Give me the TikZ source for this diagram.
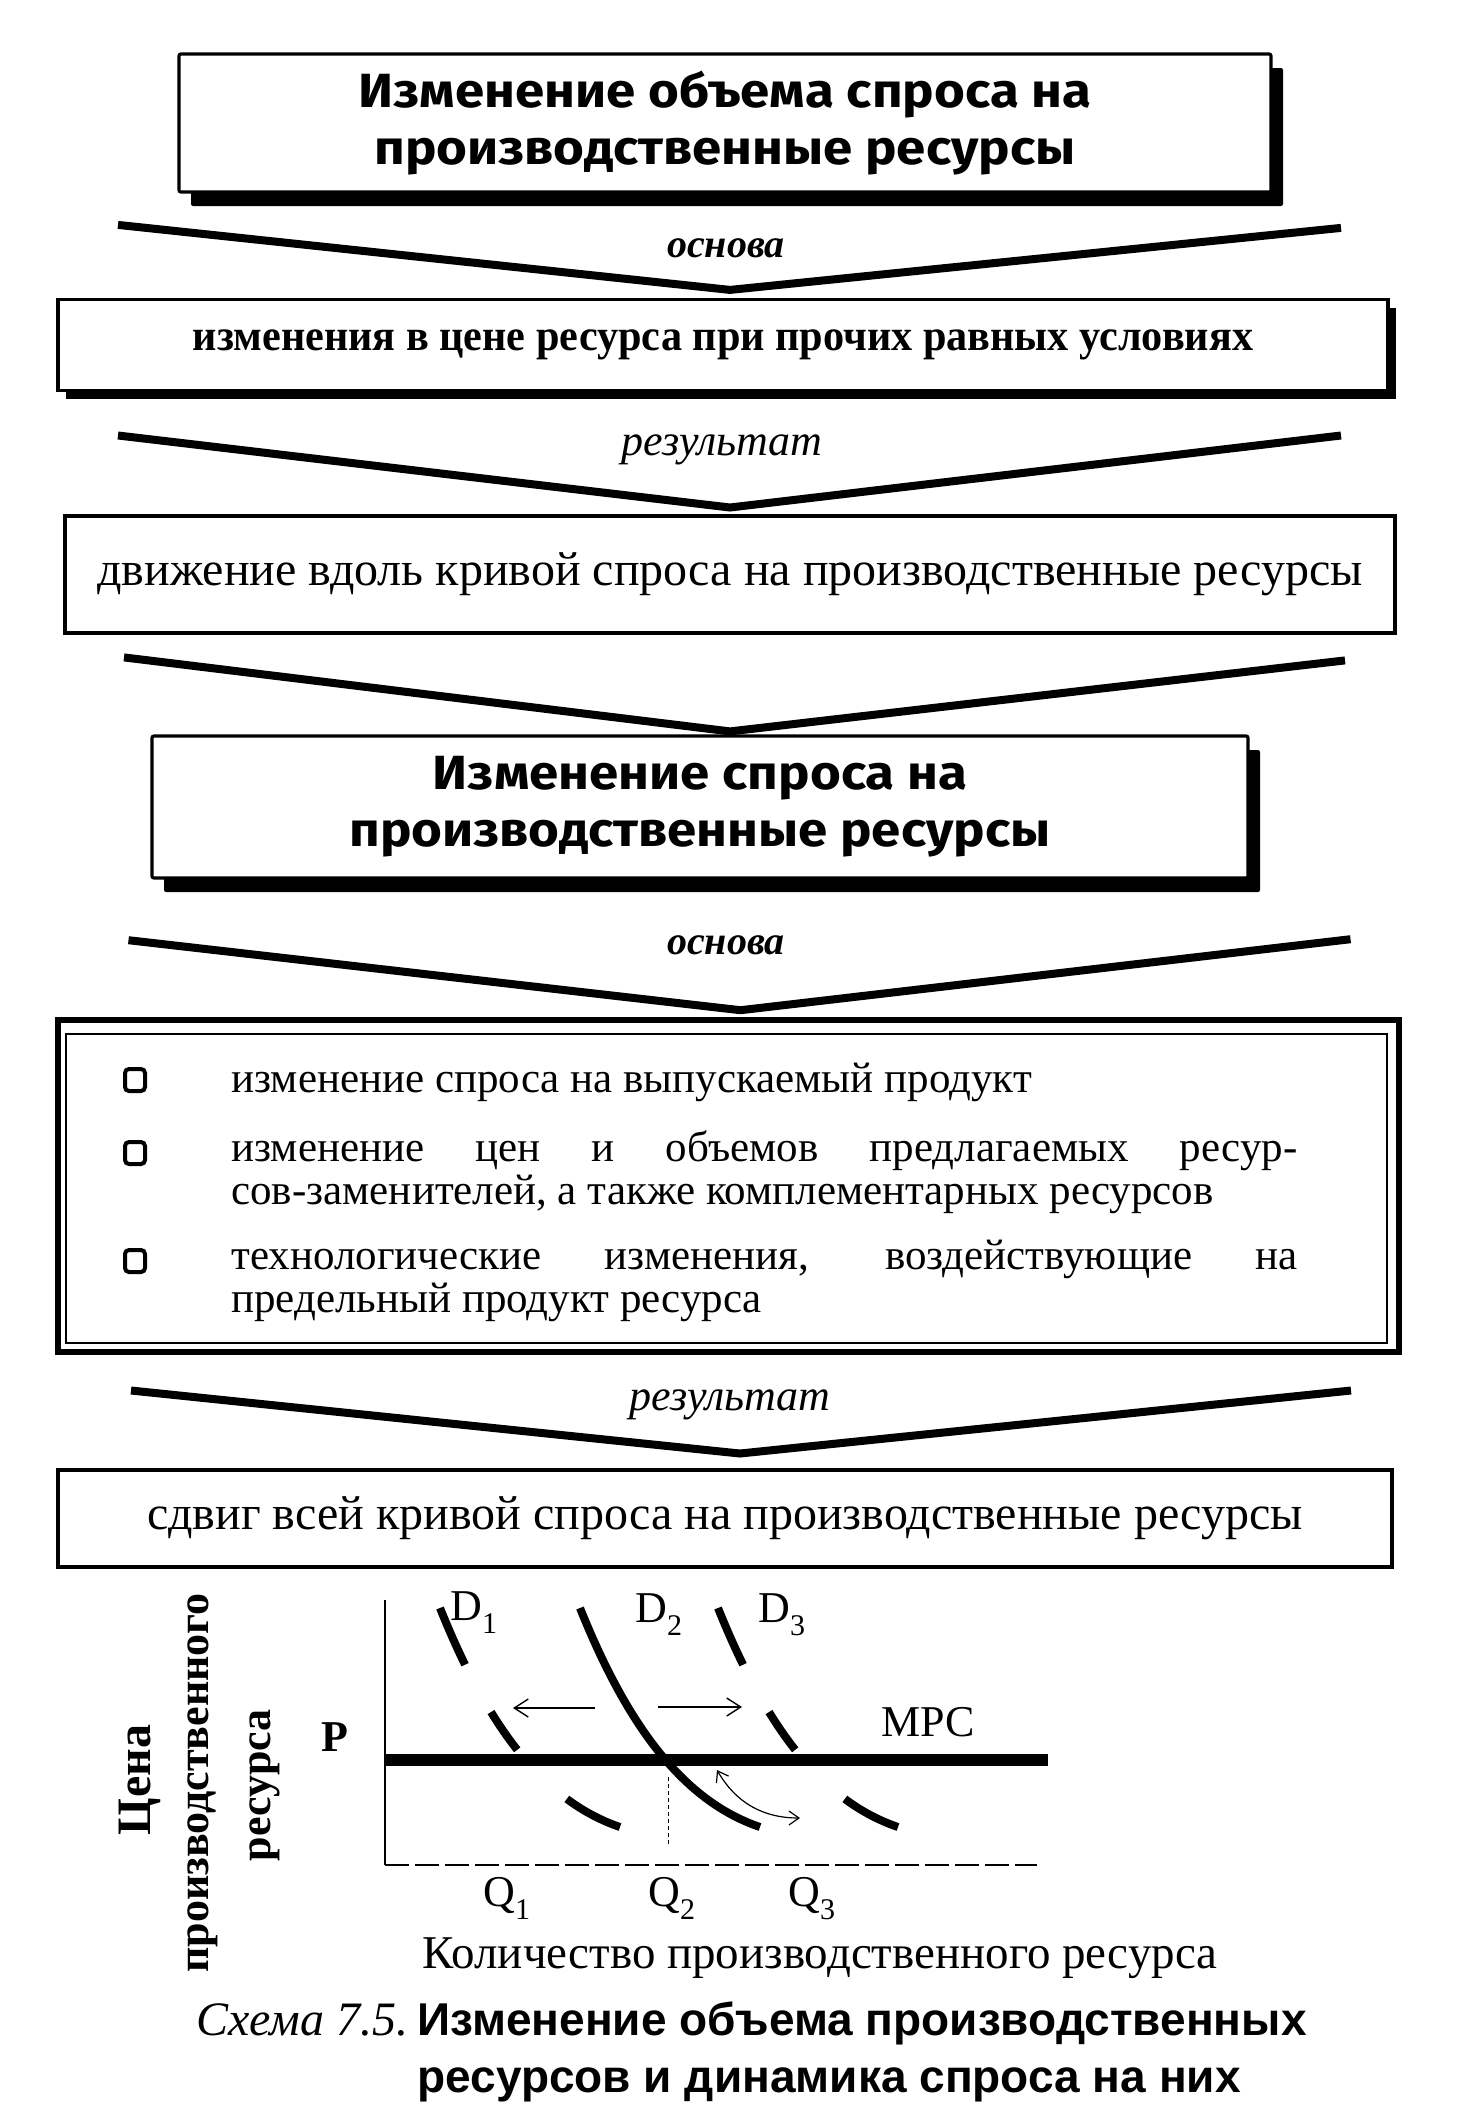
\documentclass[tikz,border=0pt]{standalone}
\usepackage{fontspec}
\setmainfont{Liberation Serif}
\newfontfamily\headfont{Fira Sans}[FakeStretch=1.1]
\newfontfamily\condfont{Liberation Serif}[FakeStretch=0.96]
\newfontfamily\capfont{Liberation Sans}
\usepackage{tikz}
\usetikzlibrary{arrows.meta,positioning,calc,shadows}
\newcommand{\subidx}[2]{#1\raisebox{-0.3em}{\fontsize{15}{15}\selectfont #2}}
\tikzset{
  headbox/.style={
    draw,
    line width=1.6pt,
    rounded corners=1pt,
    fill=white,
    drop shadow={shadow xshift=6pt, shadow yshift=-7pt, fill=black, opacity=1},
    align=center,
    font=\headfont\bfseries\fontsize{24}{28.5}\selectfont
  },
  condbox/.style={
    draw,
    line width=1.6pt,
    fill=white,
    drop shadow={shadow xshift=4pt, shadow yshift=-4pt, fill=black, opacity=1},
    align=center,
    font=\condfont\bfseries\fontsize{22}{24}\selectfont
  },
  plainbox/.style={
    draw,
    line width=2pt,
    fill=white,
    align=center,
    font=\fontsize{24}{28}\selectfont
  },
  listbox/.style={draw, line width=2.8pt},
  bulletbox/.style={draw, line width=2pt, rounded corners=2pt, minimum width=10pt, minimum height=11pt, inner sep=0pt},
  itemtext/.style={text width=533pt, align=justify, inner sep=0pt, font=\fontsize{21.5}{21.5}\selectfont},
  vee/.style={line width=4pt, line join=miter},
  linklabel/.style={font=\itshape\fontsize{22}{24}\selectfont},
  axis/.style={line width=0.8pt},
  mpc/.style={line width=6pt},
  demand/.style={line width=4pt},
  shiftarrow/.style={line width=0.7pt, -{Straight Barb[length=7pt, width=9pt]}},
  movearrow/.style={line width=0.6pt, {Straight Barb[length=5pt, width=7pt]}-{Straight Barb[length=5pt, width=7pt]}},
  graphlabel/.style={inner sep=0pt, font=\fontsize{22}{24}\selectfont},
  axislabel/.style={inner sep=0pt, font=\bfseries\fontsize{22}{24}\selectfont}
}

\begin{document}
\begin{tikzpicture}[x=0.5pt, y=-0.5pt]
\useasboundingbox (0,0) rectangle (1457,2110);

% boxes of the scheme
\node[headbox, minimum width=546pt, minimum height=69pt] (obyom) at (725,123) {Изменение объема спроса на\\производственные ресурсы};
\node[condbox, minimum width=665pt, minimum height=45.5pt] (cena) at (723,345) {изменения в цене ресурса при прочих равных условиях};
\node[plainbox, minimum width=665pt, minimum height=58.5pt] (vdol) at (730,574) {движение вдоль кривой спроса на производственные ресурсы};
\node[headbox, minimum width=548pt, minimum height=71pt] (spros) at (700,807) {Изменение спроса на\\производственные ресурсы};
\node[listbox, minimum width=670.5pt, minimum height=166pt] (factors) at (728.5,1186) {};
\node[plainbox, minimum width=667pt, minimum height=48.5pt] (sdvig) at (725,1518) {сдвиг всей кривой спроса на производственные ресурсы};

\draw[line width=0.8pt] ($(factors.north west)+(11,17)$) rectangle ($(factors.south east)+(-15,-12)$);

% list of factors
\node[bulletbox] (b1) at (135,1080) {};
\node[bulletbox] (b2) at (135,1153) {};
\node[bulletbox] (b3) at (135,1261) {};
\node[itemtext, anchor=base west] (f1) at (231,1092) {изменение спроса на выпускаемый продукт};
\node[itemtext, anchor=base west] (f2) at (231,1161) {изменение цен и объемов предлагаемых ресур-\linebreak сов-заменителей, а также комплементарных ресурсов};
\node[itemtext, anchor=base west] (f3) at (231,1269) {технологические изменения, воздействующие на\linebreak предельный продукт ресурса};

% chevrons between the boxes
\draw[vee] ($(cena.north)+(-605,-73)$) -- ($(cena.north)+(7,-8)$) -- ($(cena.north)+(618,-70)$);
\draw[vee] ($(vdol.north)+(-612,-78)$) -- ($(vdol.north)+(0,-6)$) -- ($(vdol.north)+(611,-78)$);
\draw[vee] ($(spros.north)+(-576,-77)$) -- ($(spros.north)+(30,-3)$) -- ($(spros.north)+(645,-74)$);
\draw[vee] ($(factors.north)+(-600,-77)$) -- ($(factors.north)+(12,-7)$) -- ($(factors.north)+(622,-78)$);
\draw[vee] ($(sdvig.north)+(-594,-77)$) -- ($(sdvig.north)+(15,-14)$) -- ($(sdvig.north)+(626,-77)$);

\node[linklabel, font=\bfseries\itshape\fontsize{20}{22}\selectfont] (osnova1) at (726,248) {основа};
\node[linklabel] (rezult1) at (722,450) {результат};
\node[linklabel, font=\bfseries\itshape\fontsize{20}{22}\selectfont] (osnova2) at (726,945) {основа};
\node[linklabel] (rezult2) at (730,1405) {результат};

% demand for the resource
\draw[axis] (385,1600) -- (385,1865);
\draw[axis, dash pattern=on 12pt off 3pt] (385,1865) -- (1037,1865);
\draw[mpc] (385,1760) -- (1048,1760);
\draw[demand] (580,1608) .. controls (625,1720) and (680,1800) .. (760,1827);
\draw[demand, xshift=-70pt, dash pattern=on 31pt off 27pt on 23pt off 35pt on 40pt off 100pt]
  (580,1608) .. controls (625,1720) and (680,1800) .. (760,1827);
\draw[demand, xshift=69pt, dash pattern=on 31pt off 27pt on 23pt off 35pt on 40pt off 100pt]
  (580,1608) .. controls (625,1720) and (680,1800) .. (760,1827);
\draw[line width=0.5pt, dash pattern=on 2pt off 1.5pt] (668,1777) -- (668,1845);
\draw[shiftarrow] (595,1708) -- (513,1708);
\draw[shiftarrow] (658,1707) -- (742,1707);
\draw[movearrow] (717,1770) to[bend right=30] (800,1818);

\node[graphlabel, font=\bfseries\fontsize{22}{24}\selectfont] (plab) at (335,1737) {P};
\node[graphlabel] (mpclab) at (928,1722) {MPC};
\node[graphlabel, anchor=base west] (d1) at (450,1620) {\subidx{D}{1}};
\node[graphlabel, anchor=base west] (d2) at (635,1622) {\subidx{D}{2}};
\node[graphlabel, anchor=base west] (d3) at (758,1622) {\subidx{D}{3}};
\node[graphlabel, anchor=base west] (q1) at (483,1906) {\subidx{Q}{1}};
\node[graphlabel, anchor=base west] (q2) at (648,1906) {\subidx{Q}{2}};
\node[graphlabel, anchor=base west] (q3) at (788,1906) {\subidx{Q}{3}};
\node[graphlabel, font=\fontsize{23.5}{24}\selectfont] (qlab) at (820,1958) {Количество производственного ресурса};
\node[axislabel, rotate=90, font=\bfseries\fontsize{24}{26}\selectfont] (plab1) at (140,1780) {Цена};
\node[axislabel, rotate=90] (plab2) at (203,1783) {производственного};
\node[axislabel, rotate=90] (plab3) at (265,1785) {ресурса};

% caption
\node[inner sep=0pt, anchor=base west, font=\itshape\fontsize{24}{24}\selectfont] (capnum) at (196,2035) {Схема 7.5.};
\node[inner sep=0pt, anchor=base west, font=\capfont\bfseries\fontsize{23}{24}\selectfont] (cap1) at (417,2035) {Изменение объема производственных};
\node[inner sep=0pt, anchor=base west, font=\capfont\bfseries\fontsize{23}{24}\selectfont] (cap2) at (417,2092) {ресурсов и динамика спроса на них};
\end{tikzpicture}
\end{document}
